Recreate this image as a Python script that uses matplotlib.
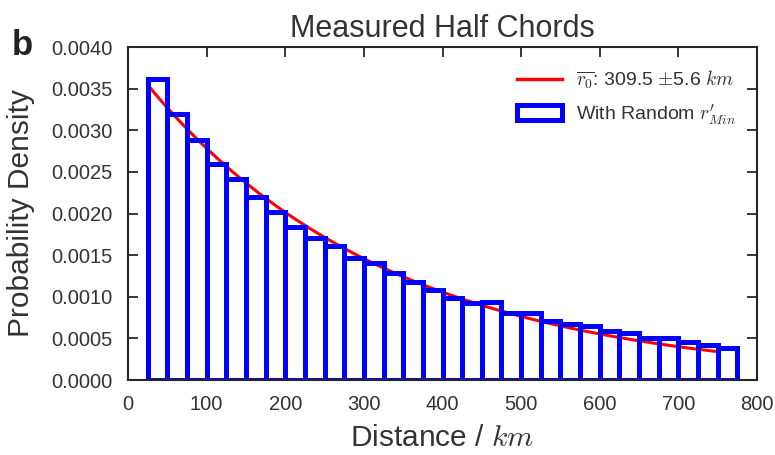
import numpy as np
import matplotlib
matplotlib.use("Agg")
import matplotlib.pyplot as plt
from matplotlib.patches import Patch
from matplotlib.lines import Line2D

# ---- data ----
bin_edges = [25, 50, 75, 100, 125, 150, 175, 200, 225, 250, 275, 300, 325, 350, 375,
             400, 425, 450, 475, 500, 525, 550, 575, 600, 625, 650, 675, 700, 725, 750, 775]
densities = [0.00362, 0.00320, 0.00288, 0.00260, 0.00241, 0.00220, 0.00202, 0.00184,
             0.00170, 0.00161, 0.00146, 0.00141, 0.00128, 0.00118, 0.00108, 0.00099,
             0.00093, 0.00094, 0.00080, 0.00080, 0.00071, 0.00067, 0.00065, 0.00059,
             0.00056, 0.00051, 0.00051, 0.00046, 0.00042, 0.00039]
r0_fit = 309.5          # fitted mean half chord (km), from legend
r0_err = 5.6
fit_range = [25, 750]
x_ticks = [0, 100, 200, 300, 400, 500, 600, 700, 800]
y_ticks = [0.0, 0.0005, 0.0010, 0.0015, 0.0020, 0.0025, 0.0030, 0.0035, 0.0040]
y_tick_labels = ["0.0000", "0.0005", "0.0010", "0.0015", "0.0020", "0.0025",
                 "0.0030", "0.0035", "0.0040"]

plt.rcParams['font.family'] = ['Liberation Sans', 'DejaVu Sans']
plt.rcParams['mathtext.fontset'] = 'cm'

fig = plt.figure(figsize=(7.75, 4.55), dpi=100)
ax = fig.add_axes([128/775, 1-380/455, (757-128)/775, (380-47)/455])

# exponential fit curve, truncated & normalised over the fit range
xf = np.linspace(fit_range[0], fit_range[1], 300)
norm = 1 - np.exp(-(fit_range[1] + 25 - fit_range[0]) / r0_fit)
yf = np.exp(-(xf - fit_range[0]) / r0_fit) / r0_fit / norm
ax.plot(xf, yf, color='red', lw=2.2, zorder=1)

edges = np.array(bin_edges)
ax.bar(edges[:-1], densities, width=np.diff(edges), align='edge', fill=False,
       edgecolor='blue', linewidth=3.6, zorder=2)

ax.set_xlim(0, 800)
ax.set_ylim(0, 0.004)
ax.set_xticks(x_ticks)
ax.set_yticks(y_ticks)
ax.set_yticklabels(y_tick_labels)

dark = '#262626'
for s in ax.spines.values():
    s.set_color(dark)
    s.set_linewidth(1.5)
ax.tick_params(direction='in', top=True, right=True, length=7, width=1.3,
               color=dark, labelcolor='#333333', labelsize=14.5)
ax.tick_params(axis='x', pad=11)
ax.tick_params(axis='y', pad=11)

ax.set_title("Measured Half Chords", fontsize=22, color='#333333', pad=7)
ax.set_xlabel(r"Distance / $km$", fontsize=21.5, color='#333333', labelpad=7)
ax.set_ylabel("Probability Density", fontsize=21.5, color='#333333', labelpad=12)

handles = [Line2D([], [], color='red', lw=2.5),
           Patch(facecolor='white', edgecolor='blue', linewidth=3.6)]
labels = [r"$\overline{r_0}$: %.1f $\pm$%.1f $km$" % (r0_fit, r0_err),
          r"With Random $r^{\prime}_{Min}$"]
leg = ax.legend(handles, labels, loc='upper right', frameon=False, fontsize=14,
                handlelength=2.3, handleheight=0.8, handletextpad=0.7,
                labelspacing=0.55, borderaxespad=0.55, borderpad=0.55)
for t in leg.get_texts():
    t.set_color('#333333')

# panel label
fig.text(12/775, 1-55/455, "b", fontsize=25, fontweight='bold', color='#222222',
         va='baseline', ha='left')

fig.savefig("out.png", dpi=100)
